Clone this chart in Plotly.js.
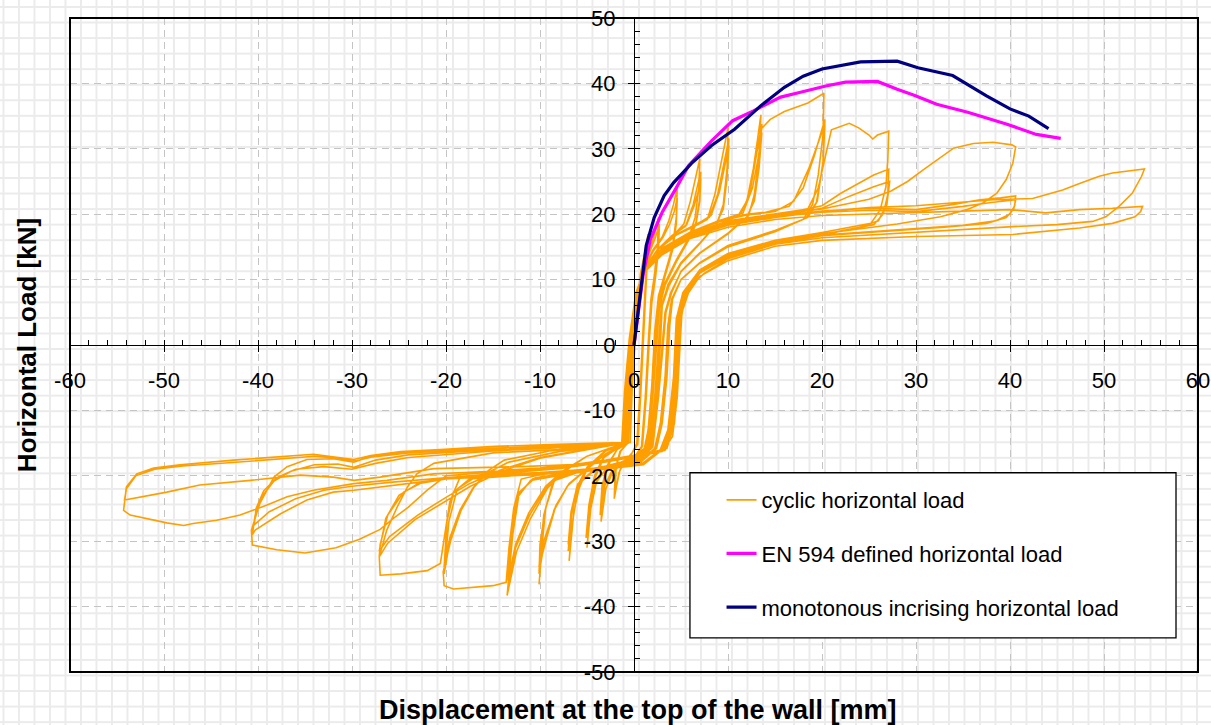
<!DOCTYPE html>
<html><head><meta charset="utf-8">
<script src="https://cdn.plot.ly/plotly-3.0.1.min.js"></script>
<style>
html,body{margin:0;padding:0;}
body{width:1211px;height:725px;overflow:hidden;background-color:#fff;
background-image:linear-gradient(to right,#ebebeb 0,#ebebeb 2px,transparent 2px),linear-gradient(to bottom,#ebebeb 0,#ebebeb 2px,transparent 2px);
background-size:15.5px 15.55px;background-position:2.5px 6px;}
#chart{position:absolute;left:0;top:0;width:1211px;height:725px;}
</style></head>
<body><div id="chart"></div>
<script>
// ---- axis ticks ----
const xTickVals = [-60,-50,-40,-30,-20,-10,0,10,20,30,40,50,60];
const xTickText = ['-60','-50','-40','-30','-20','-10','0','10','20','30','40','50','60'];
const yTickVals = [-50,-40,-30,-20,-10,0,10,20,30,40,50];
const yTickText = ['-50','-40','-30','-20','-10','0','10','20','30','40','50'];

// ---- monotonic & EN 594 envelopes ----
const monoX = [0,0.4,0.75,1.3,2.15,3.2,4.2,6.2,8.25,10.7,13.5,16,18,20,24.1,28,30.2,33.9,37.5,40,42,44.1];
const monoY = [0,5,8.9,15.2,19.5,22.8,24.8,27.9,30.5,33,36.6,39.4,41.1,42.2,43.3,43.4,42.4,41.2,38.1,36.1,35,33.1];
const en594X = [0,0.3,0.6,1.0,1.75,3,4.6,5.8,8.25,10.5,12.7,15.6,17.6,20.4,22.5,25.9,28,29.8,32.2,35.5,39.6,42.8,45.4];
const en594Y = [0,3.5,7,11,16.2,20.3,24.3,27.4,31.2,34.3,35.8,37.9,38.6,39.6,40.2,40.3,39.1,38.2,36.8,35.6,33.8,32.2,31.6];

// ---- cyclic test: half loops [displacement, load] ----
const p1a = [[0,0],[0.3,6],[0.7,11],[1.1,14],[1.4,16],[1.3,12],[1.1,6],[0.9,0],[0.6,-8],[0.3,-15]];
const n1a = [[-0.2,-16.5],[-0.9,-17.6],[-1.5,-19.2],[-2,-22.5],[-1.9,-18.5],[-1.4,-16.2],[-0.8,-15.2],[-0.5,-14.9]];
const p1b = [[-0.4,-14.9],[-0.2,-7],[0.1,0],[0.4,7],[0.8,11.5],[1.2,14.5],[1.5,17],[1.4,12.5],[1.2,6.5],[1,0],[0.7,-8],[0.4,-15.2]];
const n1b = [[-0.3,-16.7],[-1,-17.8],[-1.6,-19.5],[-2.1,-23.5],[-2,-19],[-1.5,-16.3],[-0.9,-15.3],[-0.6,-15]];
const p2a = [[-0.6,-15],[-0.3,-7],[0.1,1],[0.5,8],[1,12],[1.6,14.5],[2.1,16.5],[2.6,19.5],[2.5,15],[2.2,11],[1.8,7],[1.5,0],[1.2,-8],[0.8,-15.5]];
const n2a = [[0.2,-16.8],[-1,-17.8],[-2.3,-19.5],[-3,-22],[-3.5,-27],[-3.3,-22],[-2.8,-18.5],[-1.8,-16],[-1,-15.3],[-0.6,-15]];
const p2b = [[-0.6,-15],[-0.3,-7],[0.1,1],[0.5,8],[1,11.8],[1.7,14.3],[2.3,16.5],[2.7,18.5],[2.6,14.5],[2.3,10.5],[1.9,6.5],[1.6,0],[1.3,-8],[0.9,-15.5]];
const n2b = [[0.2,-16.9],[-1,-17.9],[-2.4,-19.4],[-3.1,-21.5],[-3.6,-26],[-3.4,-21.5],[-2.8,-18.3],[-1.8,-16],[-1,-15.3],[-0.7,-15]];
const p3a = [[-0.7,-15],[-0.4,-7],[0,1],[0.5,8],[1,11.5],[2,14.5],[3,16.5],[3.7,19],[4.2,21.5],[4.6,24],[4.5,19.5],[4.1,15],[3.3,11],[2.6,7.5],[2.2,2],[1.9,-6],[1.5,-13],[1.1,-15.8]];
const n3a = [[0,-17],[-1.5,-18],[-3,-19],[-4,-21],[-4.6,-25],[-5,-31],[-4.7,-25.5],[-4.2,-20.5],[-3.2,-17.2],[-1.6,-15.6],[-0.7,-15]];
const p3b = [[-0.7,-15],[-0.4,-7],[0,1],[0.5,8],[1,11.5],[2.1,14.5],[3.1,16.5],[3.8,18.5],[4.3,20.5],[4.6,22.5],[4.5,18.5],[4.1,14.5],[3.3,10.5],[2.7,7],[2.3,1],[2,-7],[1.6,-13.5],[1.2,-15.8]];
const n3b = [[0,-17.1],[-1.5,-18.1],[-3,-19.1],[-4,-20.8],[-4.7,-24.5],[-5.1,-29.5],[-4.8,-24.5],[-4.2,-20],[-3.2,-17],[-1.6,-15.6],[-0.7,-15]];
const p4a = [[-0.8,-15],[-0.5,-7],[0,1],[0.5,8],[1,11.5],[2.5,14.5],[4,16.5],[5.3,18.5],[6,22],[6.6,26],[7,28.5],[6.9,24],[6.5,19.5],[5.8,16.3],[4.5,13],[3.3,9.5],[2.6,6],[2.3,0],[1.9,-8],[1.4,-15.6]];
const n4a = [[0.2,-17.2],[-2,-18.3],[-4.3,-19.3],[-5.7,-21],[-6.4,-25.5],[-6.9,-33],[-6.6,-27.5],[-6,-22.5],[-5,-19],[-3,-16.2],[-1.3,-15.3],[-0.8,-15]];
const p4b = [[-0.8,-15],[-0.5,-7],[0,1],[0.5,8],[1,11.5],[2.5,14.6],[4,16.6],[5.5,18.2],[6.3,21.5],[6.8,24.5],[7.1,26.5],[7,22.5],[6.6,18.8],[5.8,16],[4.5,12.8],[3.3,9.2],[2.7,5.8],[2.4,0],[2,-8],[1.5,-15.6]];
const n4b = [[0.2,-17.3],[-2,-18.4],[-4.5,-19.4],[-5.9,-21.2],[-6.6,-25.5],[-7,-31.5],[-6.7,-26.5],[-6.1,-22],[-5,-18.8],[-3,-16.1],[-1.3,-15.3],[-0.8,-15]];
const p4c = [[-0.8,-15],[-0.5,-7],[0,1],[0.5,8],[1,11.5],[2.5,14.6],[4,16.7],[5.6,18.4],[6.4,21.3],[6.9,23.8],[7.1,25.5],[7,22],[6.6,18.5],[5.8,16],[4.5,12.7],[3.3,9.1],[2.7,5.7],[2.4,0],[2,-8],[1.5,-15.6]];
const n4c = [[0.2,-17.3],[-2,-18.4],[-4.6,-19.5],[-6,-21.3],[-6.7,-25.5],[-7,-30.5],[-6.7,-26],[-6.1,-21.8],[-5,-18.7],[-3,-16.1],[-1.3,-15.3],[-0.8,-15]];
const p5a = [[-0.9,-15],[-0.6,-7],[-0.1,1],[0.5,8],[1,11.5],[2.5,14.5],[4.5,16.8],[6.5,18.2],[7.8,19.2],[8.6,23],[9.3,28],[10,33.2],[9.9,27],[9.5,21.5],[8.8,18.5],[7,15.5],[5,12.5],[3.6,9],[2.9,6],[2.6,0],[2.2,-8],[1.6,-15.6]];
const n5a = [[0.3,-17.3],[-3,-18.5],[-6,-19.3],[-8.4,-20.4],[-9.4,-25],[-9.8,-31],[-10.1,-36.6],[-9.9,-32.8],[-8.5,-25.2],[-7.1,-21.6],[-5.3,-19.3],[-3,-16.6],[-1.3,-15.3],[-0.9,-15]];
const p5b = [[-0.9,-15],[-0.6,-7],[-0.1,1],[0.5,8],[1,11.5],[2.5,14.6],[4.5,16.9],[6.5,18.4],[8,19.5],[8.9,23],[9.5,27.5],[10.1,31.6],[9.9,26],[9.5,21],[8.8,18.5],[7,15.6],[5,12.6],[3.6,9.2],[3,6],[2.7,0],[2.3,-8],[1.7,-15.6]];
const n5b = [[0.3,-17.4],[-3,-18.6],[-6,-19.4],[-8.5,-20.6],[-9.5,-25.5],[-10,-30.5],[-10.1,-35],[-9.7,-31.5],[-8.4,-25],[-7,-21.4],[-5.2,-19.2],[-3,-16.6],[-1.3,-15.3],[-0.9,-15]];
const p5c = [[-0.9,-15],[-0.6,-7],[-0.1,1],[0.5,8],[1,11.4],[2.5,14.5],[4.5,16.8],[6.5,18.3],[8.2,19.8],[9.1,23.5],[9.7,27.5],[10.1,30.5],[9.9,25.5],[9.5,20.8],[8.7,18.4],[7,15.5],[5,12.4],[3.7,9],[3,6],[2.8,0],[2.4,-8],[1.8,-15.6]];
const n5c = [[0.3,-17.5],[-3,-18.7],[-6,-19.5],[-8.6,-20.8],[-9.6,-26],[-10.1,-34],[-9.6,-30],[-8.3,-24.5],[-6.9,-21.2],[-5.1,-19.1],[-3,-16.6],[-1.3,-15.3],[-0.9,-15]];
const p6a = [[-1,-15],[-0.7,-7],[-0.2,1],[0.4,8],[1,11.5],[3,14.8],[6,17.2],[9,18.8],[11,19.6],[12,22],[12.7,27],[13.1,31],[13.5,35.2],[13.3,29],[12.8,23],[12.2,19.8],[10,17],[7,14],[5,11.2],[3.9,8],[3.3,5],[3,0],[2.5,-8],[1.9,-15.6]];
const n6a = [[0.4,-17.5],[-3,-18.7],[-7,-19.5],[-10.5,-20.3],[-12.2,-22.5],[-12.9,-29],[-13.5,-38.3],[-12.5,-31.6],[-11,-26.5],[-9.2,-21.9],[-7.4,-19.3],[-5,-17],[-2,-15.5],[-1,-15]];
const p6b = [[-1,-15],[-0.7,-7],[-0.2,1],[0.4,8],[1,11.4],[3,14.8],[6,17.3],[9,19],[11.3,20],[12.3,23],[12.9,28],[13.6,33.8],[13.3,28],[12.8,22.5],[12.1,19.7],[10,17.1],[7,14.1],[5,11.3],[4,8],[3.4,5],[3.1,0],[2.6,-8],[2,-15.6]];
const n6b = [[0.5,-17.6],[-3,-18.8],[-7,-19.6],[-10.8,-20.5],[-12.4,-23],[-13.1,-29.5],[-13.4,-37],[-12.6,-31],[-11.1,-26],[-9.3,-21.8],[-7.5,-19.3],[-5,-17],[-2,-15.5],[-1,-15]];
const p6c = [[-1,-15],[-0.7,-7],[-0.2,1],[0.4,8],[1,11.3],[3,14.7],[6,17.2],[9,19],[11.6,20.2],[12.6,24],[13.2,28.5],[13.6,32.5],[13.3,27],[12.8,22],[12,19.6],[10,17],[7,14],[5,11.2],[4,8],[3.4,5],[3.1,0],[2.6,-8],[2,-15.6]];
const n6c = [[0.5,-17.7],[-3,-18.9],[-7,-19.7],[-11,-20.7],[-12.5,-23.5],[-13.2,-30],[-13.4,-36],[-12.6,-30.5],[-11.2,-25.7],[-9.4,-21.6],[-7.6,-19.3],[-5,-17],[-2,-15.5],[-1,-15]];
const p7a = [[-1,-15],[-0.7,-7],[-0.2,1],[0.4,8],[1,11.2],[3,14.6],[6,17.2],[9,18.9],[11.5,19.8],[12.4,24],[13,29],[13.5,33],[14.5,34.5],[16,35.7],[18.5,37],[20.2,38.5],[20.1,32],[19.6,26],[19,21.5],[18,19.2],[15,17.3],[10,15],[7,12.5],[5,10],[4,7],[3.6,3],[3.3,-5],[2.8,-12],[2.2,-15.8]];
const n7a = [[0.8,-17.6],[-4,-18.8],[-9,-19.5],[-12,-20.5],[-12.8,-25],[-13.3,-31],[-13.6,-36.3],[-15,-36.8],[-16.4,-37],[-19.2,-37.3],[-20.2,-36.8],[-20.3,-34.7],[-19.5,-29.9],[-18.4,-25.3],[-17,-21.7],[-15.5,-19.2],[-13.8,-17.6],[-9,-16.2],[-4,-15.5],[-1,-15]];
const p7b = [[-1,-15],[-0.7,-7],[-0.2,1],[0.4,8],[1,11.2],[3,14.6],[6,17.2],[9,19],[12,20],[14,20.3],[16.5,21.2],[18,24],[19.2,29],[20.3,34.5],[20.1,28],[19.5,22],[18.5,19.5],[15,17.5],[10,15.2],[7,12.6],[5,10],[4.1,7],[3.7,3],[3.4,-5],[2.9,-12],[2.3,-15.8]];
const n7b = [[0.8,-17.7],[-5,-19],[-12,-19.8],[-17,-20.3],[-18.8,-22],[-19.7,-27],[-20.2,-35],[-19.6,-30],[-18.6,-25.8],[-17.2,-22],[-15.6,-19.6],[-13.5,-18],[-8,-16.3],[-3,-15.4],[-1,-15]];
const p7c = [[-1,-15],[-0.7,-7],[-0.2,1],[0.4,8],[1,11.2],[3,14.5],[6,17.1],[9,18.9],[12,19.9],[15,20.4],[17,22],[18.6,27],[20.3,33.7],[20.1,27.5],[19.4,21.8],[18.3,19.4],[15,17.4],[10,15.1],[7,12.5],[5,10],[4.1,7],[3.8,3],[3.5,-5],[3,-12],[2.4,-15.8]];
const n7c = [[0.8,-17.8],[-5,-19.1],[-12,-19.9],[-17.5,-20.5],[-19.2,-22.5],[-19.9,-27],[-20.2,-34],[-19.6,-29.5],[-18.5,-25.2],[-17.1,-21.8],[-15.5,-19.5],[-13.3,-17.9],[-8,-16.3],[-3,-15.4],[-1,-15]];
const p8a = [[-1.1,-15],[-0.8,-7],[-0.3,1],[0.3,8],[1,11],[3,14.5],[6,17],[10,19],[15,20],[18.5,20.8],[19.6,24],[20.2,28],[21,32.9],[22.9,33.9],[23.9,33.2],[25,32.1],[25.4,31.5],[25.9,32.1],[27.1,32.7],[27,28.3],[26.8,24.2],[26.2,20.7],[25.2,18.6],[20,17.2],[15,16],[10,14],[7,11.5],[5.2,8],[4.5,4],[4.2,-5],[3.6,-13],[2.8,-16]];
const n8a = [[1,-18],[-5,-19],[-10,-19.5],[-15,-19.8],[-18.5,-20.2],[-19.6,-24],[-20.2,-30],[-20.6,-33.4],[-22,-34.5],[-24.8,-35],[-27,-35.2],[-27.1,-32.4],[-26.3,-28.3],[-25.2,-24.8],[-24.1,-21.7],[-23.1,-19.7],[-21.3,-18.1],[-15,-16.5],[-8,-16],[-3,-15.4],[-1.1,-15]];
const p8b = [[-1.1,-15],[-0.8,-7],[-0.3,1],[0.3,8],[1,11],[3,14.3],[6,16.8],[10,18.8],[15,19.8],[20,21.3],[22,23.2],[23.8,24.7],[25.5,26],[27.1,26.9],[27,23],[26.5,20],[25.5,18.4],[20,16.9],[15,15.8],[10,13.8],[7,11.3],[5.3,7.8],[4.6,4],[4.3,-5],[3.7,-13],[2.9,-16]];
const n8b = [[1,-18.2],[-5,-19.2],[-10,-19.7],[-15,-20],[-20,-20.4],[-22.5,-21],[-24.5,-22.5],[-26.2,-26],[-27,-30.5],[-27.1,-32.4],[-26.2,-30.3],[-23.3,-26.7],[-19.9,-23.7],[-17.4,-21.6],[-14,-19.3],[-10,-17.3],[-5,-16],[-1.1,-15]];
const p8c = [[-1.2,-15],[-0.9,-7],[-0.4,1],[0.3,8],[1,11],[3,14.2],[6,16.7],[10,18.6],[15,19.7],[20,20.9],[23,22.8],[25.5,24.2],[27.2,25],[26.9,21.5],[26,19],[24,18],[20,16.8],[15,15.7],[10,13.6],[7,11.2],[5.4,7.6],[4.7,4],[4.4,-5],[3.8,-13],[3,-16]];
const n8c = [[1,-18.3],[-5,-19.3],[-10,-19.8],[-15,-20.1],[-20,-20.5],[-23,-21.2],[-25,-23],[-26.4,-26.5],[-27.1,-31.5],[-26,-29.3],[-23,-26],[-20,-23.3],[-17.5,-21.2],[-14,-19],[-10,-17.2],[-5,-15.9],[-1.2,-15]];
const p9a = [[-1.2,-15],[-0.9,-7],[-0.4,1],[0.2,8],[1,11],[3,14.3],[6,16.8],[10,18.7],[15,19.9],[20,20.8],[25,22.3],[27.3,23.5],[29.1,25],[30.8,26.8],[32.2,28.3],[34,30.1],[36.1,30.8],[38.2,31],[40.2,30.6],[40.6,30.3],[40.3,27.8],[39.6,25.3],[38.6,23.2],[37.1,21.7],[35.4,20.7],[32.6,19.6],[28,18.5],[20,17],[15,15.8],[10,13.7],[7,11.3],[5.4,8],[4.8,4],[4.5,-5],[3.9,-13],[3.1,-16.1]];
const n9a = [[1.1,-16.6],[-3,-17.6],[-8,-18.6],[-15,-19.4],[-20,-20],[-22,-22.2],[-24,-24.8],[-25.6,-26.5],[-27,-28.2],[-29.2,-29.7],[-31.7,-31],[-35,-31.8],[-38,-31.3],[-40.6,-30.6],[-40.7,-28.3],[-39.8,-24.2],[-38.3,-20.2],[-36.9,-18.6],[-34.8,-17.5],[-32,-17.4],[-29.8,-17.9],[-28,-17],[-24,-16.4],[-18,-16],[-10,-15.7],[-4,-15.4],[-1.2,-15]];
const p9b = [[-1.2,-15],[-0.9,-7],[-0.4,1],[0.2,8],[1,11],[3,14.1],[6,16.6],[10,18.5],[15,19.7],[20,20.5],[25,20.9],[30,20.7],[34,21.5],[36.8,22.2],[39,22.5],[40.6,22.8],[40.5,21.3],[40,20],[38.5,19],[35,18.3],[30,17.8],[20,16.8],[15,15.6],[10,13.5],[7,11.1],[5.5,7.8],[4.9,4],[4.6,-5],[4,-13],[3.2,-16.1]];
const n9b = [[1.1,-16.7],[-3,-17.8],[-8,-18.8],[-15,-19.6],[-21.3,-20.7],[-26.6,-21.7],[-29.8,-22.2],[-32,-22.5],[-34.8,-23.7],[-37.6,-25.8],[-40.3,-28.3],[-40.6,-29],[-40.3,-26],[-39.5,-23],[-38.3,-20.8],[-36.5,-19.3],[-34,-18.3],[-31.5,-18.2],[-29.8,-18.7],[-27.5,-17.6],[-24,-16.8],[-15,-16],[-5,-15.4],[-1.2,-15]];
const p9c = [[-1.3,-15],[-1,-7],[-0.5,1],[0.2,8],[1,11],[3,14],[6,16.5],[10,18.4],[15,19.6],[20,20.3],[25,20.6],[30,20.4],[35,21.2],[38,21.8],[40.6,22.2],[40.4,20.8],[39.6,19.5],[37.5,18.6],[33,18],[28,17.5],[20,16.7],[15,15.5],[10,13.4],[7,11],[5.5,7.6],[5,4],[4.7,-5],[4.1,-13],[3.3,-16.1]];
const n9c = [[1.2,-16.8],[-3,-17.9],[-8,-18.9],[-15,-19.7],[-21.3,-20.4],[-26,-21],[-30,-21.6],[-33,-22.2],[-36,-23.5],[-38.8,-25.5],[-40.4,-27.5],[-40.2,-25],[-39.4,-22.3],[-38,-20.3],[-36,-19],[-33,-18.6],[-30,-19],[-27.5,-18.1],[-24,-17.2],[-15,-16.2],[-5,-15.5],[-1.3,-15]];
const p10a = [[-1.3,-15],[-1,-7],[-0.5,1],[0.2,8],[1,11],[3,14],[6,16.5],[10,18.3],[15,19.5],[20,20.4],[25,21],[30,21.3],[35,21.8],[38.2,22.2],[42.4,22.4],[45.6,23.7],[47.4,24.7],[49.5,25.8],[50.9,26.3],[53,26.7],[54.3,26.9],[54,25.8],[53,23.2],[51.6,21.2],[50.2,19.6],[48.8,18.9],[45,18.4],[40.3,18.1],[30,17.2],[20,16.4],[15,15.4],[10,13.2],[7.5,11],[6,9],[5.2,6],[4.9,2],[4.7,-5],[4.3,-12],[3.5,-15.8],[2.9,-16.1]];
const n10a = [[1.1,-16.5],[-3,-17.8],[-10,-18.8],[-15,-19.3],[-21.3,-19.7],[-26.3,-20.7],[-29.8,-21.2],[-34.1,-22.2],[-36.9,-23.2],[-39.1,-24.5],[-41.9,-26],[-44.4,-26.8],[-46.9,-27.3],[-47.9,-27.6],[-49.7,-27.2],[-52.2,-26.5],[-53.6,-26],[-54.3,-25.3],[-54.2,-23.7],[-54,-21.7],[-52.9,-19.7],[-51.1,-18.8],[-48.3,-18.3],[-42.6,-17.6],[-34.1,-16.7],[-32,-17.1],[-29.8,-17.5],[-28,-16.9],[-24.8,-16.3],[-20.6,-16],[-14.8,-15.5],[-8,-15.2],[-3,-15],[-1.3,-14.9]];
const p10b = [[-1.3,-14.9],[-1,-7],[-0.5,1],[0.2,8],[1,11],[3,13.8],[6,16.3],[10,18],[15,19.2],[20,19.8],[25,20],[30,20.2],[35,20.5],[40,20.7],[43.8,20.2],[47.4,20.7],[50.9,20.9],[54.1,21.2],[53.9,20.4],[53.3,19.6],[50.9,18.6],[47.4,17.9],[40.3,16.9],[30,16.6],[20,16],[15,15.1],[10,12.9],[7,10.5],[5.8,8],[5.1,5],[4.9,0],[4.6,-8],[4.1,-14],[3,-16.3]];
const n10b = [[1.1,-16.6],[-5,-18.2],[-12,-18.6],[-21.3,-18.9],[-27,-20.2],[-29.8,-20.7],[-32,-20.2],[-35.5,-19.9],[-40.8,-20.7],[-46.2,-21.4],[-49.7,-22.5],[-54.2,-23.7],[-54,-22],[-53,-20],[-51,-19],[-48,-18.5],[-42,-17.9],[-34,-17],[-31.5,-17.3],[-29.5,-17.7],[-27.8,-17.1],[-24,-16.5],[-15,-15.8],[-5,-15.3],[-1,-15]];

const cyclicLoops = [p1a,n1a,p1b,n1b,p2a,n2a,p2b,n2b,p3a,n3a,p3b,n3b,
  p4a,n4a,p4b,n4b,p4c,n4c,p5a,n5a,p5b,n5b,p5c,n5c,p6a,n6a,p6b,n6b,p6c,n6c,
  p7a,n7a,p7b,n7b,p7c,n7c,p8a,n8a,p8b,n8b,p8c,n8c,p9a,n9a,p9b,n9b,p9c,n9c,
  p10a,n10a,p10b,n10b];

const legendNames = ['cyclic horizontal load','EN 594 defined horizontal load','monotonous incrising horizontal load'];
const xTitle = 'Displacement at the top of the wall [mm]';
const yTitle = 'Horizontal Load [kN]';

const cycX = [], cycY = [];
cyclicLoops.forEach(l => l.forEach(p => { cycX.push(p[0]); cycY.push(p[1]); }));

const FONT = 'Liberation Sans, Arial, sans-serif';

const traces = [
  {x: cycX, y: cycY, type: 'scatter', mode: 'lines', name: legendNames[0], legendgroup: 'a',
   line: {color: '#ff9e00', width: 1.6}},
  {x: en594X, y: en594Y, type: 'scatter', mode: 'lines', name: legendNames[1], legendgroup: 'b',
   line: {color: '#ff00ff', width: 3.2}},
  {x: monoX, y: monoY, type: 'scatter', mode: 'lines', name: legendNames[2], legendgroup: 'c',
   line: {color: '#000080', width: 3.2}}
];

const axisCommon = {
  anchor: 'free', position: 0.5, showline: true, linecolor: 'black', linewidth: 1.3,
  zeroline: false, ticks: 'outside', ticklen: 6, tickwidth: 1, tickcolor: 'black',
  showgrid: true, gridcolor: '#c4c4c4', gridwidth: 1, griddash: '7px,5px',
  tickfont: {family: FONT, size: 22, color: 'black'}, fixedrange: true,
  tickmode: 'array',
  minor: {tickmode: 'linear', tick0: 0, dtick: 2, ticks: 'inside', ticklen: 5, tickcolor: 'black', tickwidth: 1, showgrid: false}
};

const layout = {
  width: 1211, height: 725,
  margin: {l: 70, r: 13, t: 18, b: 53, pad: 0},
  paper_bgcolor: 'rgba(0,0,0,0)', plot_bgcolor: 'rgba(0,0,0,0)',
  font: {family: FONT, color: 'black'},
  xaxis: Object.assign({}, axisCommon, {range: [-60, 60], tickvals: xTickVals, ticktext: xTickText, ticklabelstandoff: 9}),
  yaxis: Object.assign({}, axisCommon, {range: [-50, 50], tickvals: yTickVals, ticktext: yTickText, ticklabelstandoff: 8}),
  showlegend: true,
  legend: {x: 0.5776, y: 0.295, xanchor: 'left', yanchor: 'top', bgcolor: 'rgba(0,0,0,0)',
    borderwidth: 0, font: {family: FONT, size: 22, color: 'black'}, traceorder: 'grouped',
    tracegroupgap: 22, itemwidth: 30},
  shapes: [
    {type: 'rect', xref: 'paper', yref: 'paper', x0: 0, x1: 1, y0: 0, y1: 1,
     line: {color: 'black', width: 2}, layer: 'above'},
    {type: 'rect', xref: 'paper', yref: 'paper', x0: 0.5496, x1: 0.9805, y0: 0.0521, y1: 0.3047,
     fillcolor: 'white', line: {color: 'black', width: 1.3}, layer: 'above'}
  ],
  annotations: [
    {text: '<b>' + xTitle + '</b>', xref: 'paper', yref: 'paper', x: 0.5035, y: -0.058,
     xanchor: 'center', yanchor: 'middle', showarrow: false, font: {family: FONT, size: 27, color: 'black'}},
    {text: '<b>' + yTitle + '</b>', xref: 'paper', yref: 'paper', x: -0.038, y: 0.5,
     xanchor: 'center', yanchor: 'middle', textangle: -90, showarrow: false, font: {family: FONT, size: 26, color: 'black'}}
  ]
};

Plotly.newPlot('chart', traces, layout, {staticPlot: true, displayModeBar: false});
</script>
</body></html>
